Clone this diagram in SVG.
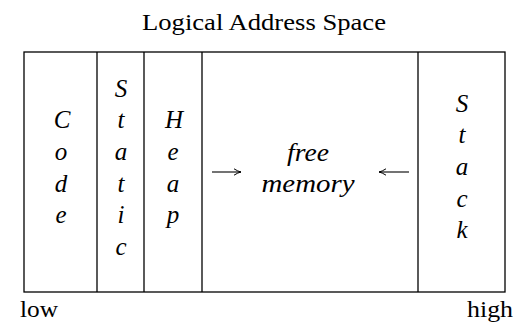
<svg xmlns="http://www.w3.org/2000/svg" width="514" height="324" viewBox="0 0 514 324">
<style>
text{font-family:'Liberation Serif','DejaVu Serif',serif;fill:#000}
.t{font-size:23px}
.m{font-style:italic;font-size:25px;text-anchor:middle}
.b{fill:none;stroke:#000;stroke-width:1.3}
.c{fill:none;stroke:#000;stroke-width:1.1}
</style>
<defs>
<marker id="ah" markerUnits="userSpaceOnUse" markerWidth="12" markerHeight="10" viewBox="-8 -5 10 10" refX="0" refY="0" orient="auto">
<path d="M-7,-3.2 Q-3,-0.6 0,0 Q-3,0.6 -7,3.2" fill="none" stroke="#000" stroke-width="1"/>
</marker>
</defs>
<text class="t" x="142" y="30" textLength="244" lengthAdjust="spacingAndGlyphs">Logical Address Space</text>
<g id="frame">
<rect class="b" x="24" y="52" width="481" height="240"/>
</g>
<g id="code">
<line class="b" x1="97" y1="52" x2="97" y2="292"/>
<text class="m" x="62" y="128">C</text>
<text class="m" x="61" y="160">o</text>
<text class="m" x="61" y="192">d</text>
<text class="m" x="61" y="223">e</text>
</g>
<g id="static">
<line class="b" x1="144" y1="52" x2="144" y2="292"/>
<text class="m" x="121" y="97">S</text>
<text class="m" x="121" y="128">t</text>
<text class="m" x="121" y="160">a</text>
<text class="m" x="121" y="192">t</text>
<text class="m" x="121" y="223">i</text>
<text class="m" x="121" y="255">c</text>
</g>
<g id="heap">
<line class="b" x1="202" y1="52" x2="202" y2="292"/>
<text class="m" x="174" y="128">H</text>
<text class="m" x="173" y="160">e</text>
<text class="m" x="173" y="192">a</text>
<text class="m" x="173" y="223">p</text>
</g>
<g id="free">
<text class="m" x="308" y="161" textLength="42" lengthAdjust="spacingAndGlyphs">free</text>
<text class="m" x="308" y="192" textLength="93" lengthAdjust="spacingAndGlyphs">memory</text>
</g>
<g id="stack">
<line class="b" x1="418" y1="52" x2="418" y2="292"/>
<text class="m" x="462" y="112">S</text>
<text class="m" x="462" y="143">t</text>
<text class="m" x="462" y="175">a</text>
<text class="m" x="462" y="207">c</text>
<text class="m" x="462" y="238">k</text>
</g>
<g id="connectors">
<line class="c" x1="212" y1="172" x2="241" y2="172" marker-end="url(#ah)"/>
<line class="c" x1="409" y1="172" x2="379" y2="172" marker-end="url(#ah)"/>
</g>
<text class="t" x="20" y="317" font-size="24" textLength="38" lengthAdjust="spacingAndGlyphs">low</text>
<text class="t" x="467" y="317" font-size="24" textLength="46" lengthAdjust="spacingAndGlyphs">high</text>
</svg>
